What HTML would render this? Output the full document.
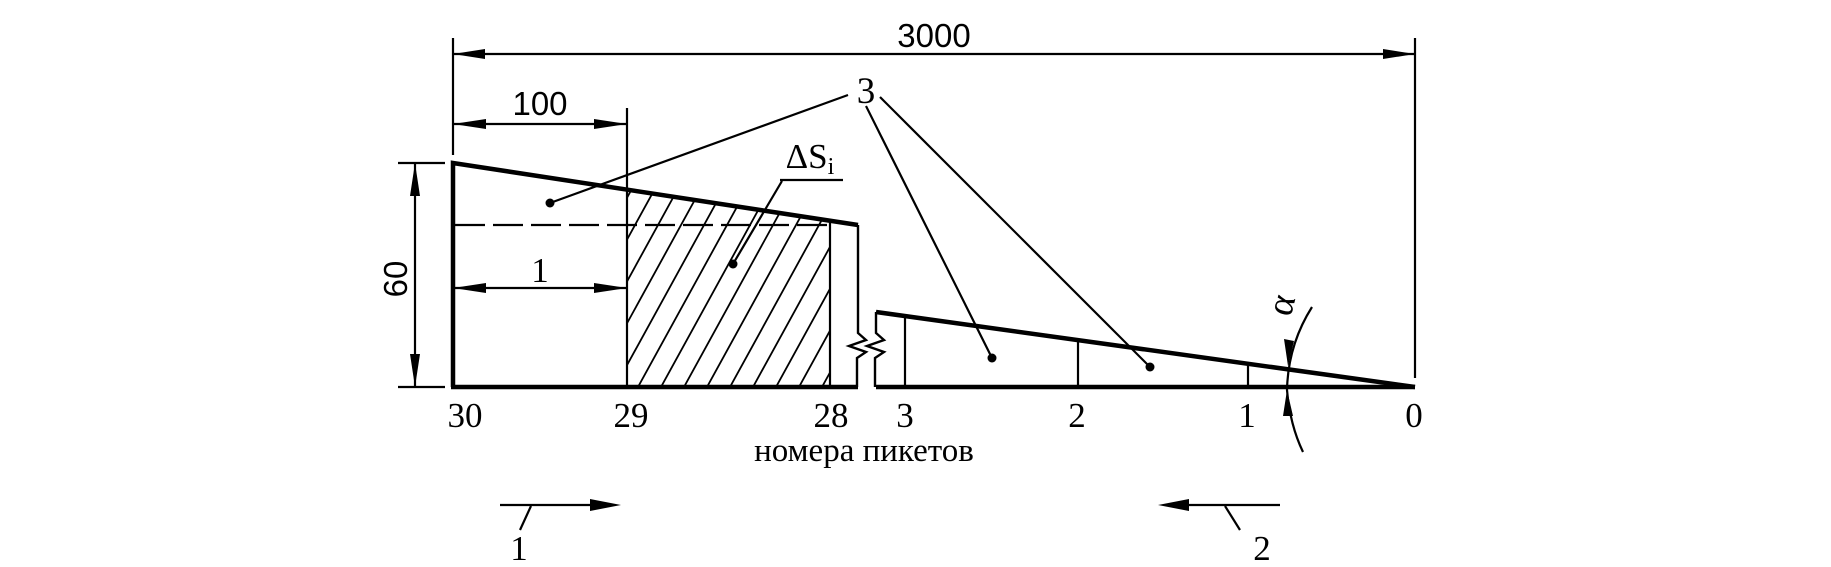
<!DOCTYPE html>
<html><head><meta charset="utf-8"><style>html,body{margin:0;padding:0;background:#fff}svg{display:block}</style></head>
<body>
<svg width="1831" height="567" viewBox="0 0 1831 567" xmlns="http://www.w3.org/2000/svg">
<defs>
<clipPath id="hc"><polygon points="627,190 830,221 830,387 627,387"/></clipPath>
</defs>
<g stroke="#000" fill="none" stroke-linecap="butt">
<polyline points="453,387 453,163 858,225" stroke-width="4.5"/>
<line x1="451" y1="387" x2="858" y2="387" stroke-width="4.5"/>
<polyline points="876,312 1415,387" stroke-width="4.5"/>
<line x1="876" y1="387" x2="1415" y2="387" stroke-width="4.5"/>
<line x1="627" y1="108" x2="627" y2="387" stroke-width="2.2"/>
<line x1="830" y1="221" x2="830" y2="387" stroke-width="2.2"/>
<polyline points="858,225 858,333 866,340 849,346 866,352 857,358 857,387" stroke-width="2.4"/>
<polyline points="876,312 876,333 884,340 867,346 884,352 875,358 875,387" stroke-width="2.4"/>
<line x1="905" y1="316" x2="905" y2="387" stroke-width="2.2"/>
<line x1="1078" y1="340" x2="1078" y2="387" stroke-width="2.2"/>
<line x1="1248" y1="365" x2="1248" y2="387" stroke-width="2.2"/>
<line x1="455" y1="225" x2="830" y2="225" stroke-width="2.2" stroke-dasharray="30,8"/>
<g clip-path="url(#hc)" stroke-width="1.8">
<line x1="500" y1="387" x2="622" y2="165"/><line x1="523" y1="387" x2="645" y2="165"/><line x1="546" y1="387" x2="668" y2="165"/><line x1="569" y1="387" x2="691" y2="165"/><line x1="592" y1="387" x2="714" y2="165"/><line x1="615" y1="387" x2="737" y2="165"/><line x1="638" y1="387" x2="760" y2="165"/><line x1="661" y1="387" x2="783" y2="165"/><line x1="684" y1="387" x2="806" y2="165"/><line x1="707" y1="387" x2="829" y2="165"/><line x1="730" y1="387" x2="852" y2="165"/><line x1="753" y1="387" x2="875" y2="165"/><line x1="776" y1="387" x2="898" y2="165"/><line x1="799" y1="387" x2="921" y2="165"/><line x1="822" y1="387" x2="944" y2="165"/>
</g>
<line x1="453" y1="38" x2="453" y2="155" stroke-width="2.2"/>
<line x1="1415" y1="38" x2="1415" y2="378" stroke-width="2.2"/>
<line x1="453" y1="54" x2="1415" y2="54" stroke-width="2.2"/>
<line x1="453" y1="124" x2="627" y2="124" stroke-width="2.2"/>
<line x1="453" y1="288" x2="627" y2="288" stroke-width="2.2"/>
<line x1="398" y1="163" x2="445" y2="163" stroke-width="2.2"/>
<line x1="398" y1="387" x2="445" y2="387" stroke-width="2.2"/>
<line x1="415" y1="163" x2="415" y2="387" stroke-width="2.2"/>
<line x1="550" y1="203" x2="848" y2="95" stroke-width="2.2"/>
<line x1="992" y1="358" x2="866" y2="106" stroke-width="2.2"/>
<line x1="1150" y1="367" x2="880" y2="97" stroke-width="2.2"/>
<line x1="733" y1="264" x2="782" y2="181" stroke-width="2.2"/>
<line x1="780" y1="180" x2="843" y2="180" stroke-width="2.2"/>
<path d="M1312,307 Q1288,345 1287,390 Q1290,425 1303,452" stroke-width="2.2"/>
<line x1="500" y1="505" x2="600" y2="505" stroke-width="2.2"/>
<line x1="531" y1="506" x2="520" y2="530" stroke-width="2.2"/>
<line x1="1180" y1="505" x2="1280" y2="505" stroke-width="2.2"/>
<line x1="1225" y1="506" x2="1240" y2="530" stroke-width="2.2"/>
</g>
<g fill="#000">
<polygon points="453,54 485,49 485,59"/><polygon points="1415,54 1383,49 1383,59"/>
<polygon points="453,124 486,119 486,129"/><polygon points="627,124 594,119 594,129"/>
<polygon points="453,288 486,283 486,293"/><polygon points="627,288 594,283 594,293"/>
<polygon points="415,163 410,196 420,196"/><polygon points="415,387 410,354 420,354"/>
<polygon points="1288,366 1284,339 1294,341"/><polygon points="1287,390 1283,416 1293,416"/>
<polygon points="621,505 590,499 590,511"/><polygon points="1158,505 1189,499 1189,511"/>
<circle cx="550" cy="203" r="4.5"/><circle cx="733" cy="264" r="4.5"/><circle cx="992" cy="358" r="4.5"/><circle cx="1150" cy="367" r="4.5"/>
</g>
<g font-family="Liberation Sans, sans-serif" font-size="33" text-anchor="middle">
<text x="934" y="47">3000</text>
<text x="540" y="115">100</text>
<text x="0" y="0" transform="translate(407,279) rotate(-90)">60</text>
</g>
<g font-family="Liberation Serif, serif" font-size="35" text-anchor="middle">
<text x="540" y="282">1</text>
<text x="866" y="103" font-size="37">3</text>
<text x="810" y="168">ΔS<tspan font-size="24" dy="6">i</tspan></text>
<text x="465" y="427">30</text>
<text x="631" y="427">29</text>
<text x="831" y="427">28</text>
<text x="905" y="427">3</text>
<text x="1077" y="427">2</text>
<text x="1247" y="427">1</text>
<text x="1414" y="427">0</text>
<text x="864" y="461" font-size="33">номера пикетов</text>
<text x="519" y="560">1</text>
<text x="1262" y="560">2</text>
<text x="0" y="0" transform="translate(1293,308) rotate(-75)" font-size="38">α</text>
</g>
</svg>
</body></html>
